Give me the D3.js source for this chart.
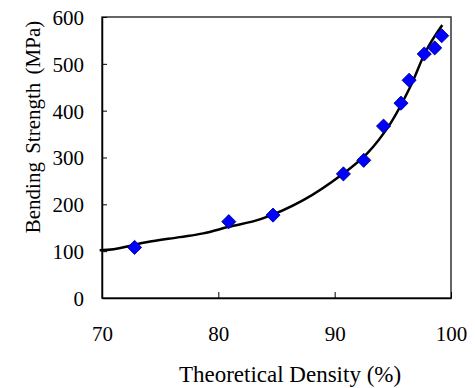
<!DOCTYPE html>
<html>
<head>
<meta charset="utf-8">
<script src="https://cdn.jsdelivr.net/npm/d3@7"></script>
<style>
  body { margin: 0; background: #fff; }
</style>
</head>
<body>
<figure id="chart" style="margin:0"></figure>
<script>
// measured points
const density = [72.8, 80.9, 84.7, 90.75, 92.5, 94.2, 95.7, 96.4, 97.7, 98.6, 99.2];
const strength = [108, 163, 177, 265, 294, 367, 416, 465, 521, 534, 560];

// fitted trend line
const fitDensity = [69.8, 71, 73.8, 76.7, 78.7, 80.9, 83.7, 87.3, 90.75, 92.8, 94.8, 96.5, 97.9, 99.25];
const fitStrength = [102, 104, 119, 130, 138, 152, 169, 209, 266, 309, 373, 451, 530, 583];

const xTicks = [70, 80, 90, 100];
const yTicks = [0, 100, 200, 300, 400, 500, 600];

const W = 475, H = 388;
const plotL = 102, plotR = 451, plotT = 17, plotB = 298;
const serif = "'Liberation Serif'";

const svg = d3.select("figure#chart")
  .append("svg")
  .attr("width", W)
  .attr("height", H);

const x = d3.scaleLinear().domain([70, 100]).range([plotL, plotR]);
const y = d3.scaleLinear().domain([0, 600]).range([plotB, plotT]);

// frame
svg.append("rect")
  .attr("x", plotL).attr("y", plotT)
  .attr("width", plotR - plotL).attr("height", plotB - plotT)
  .attr("fill", "none").attr("stroke", "#333").attr("stroke-width", 1.5);

// x axis, ticks pointing in
const gx = svg.append("g")
  .attr("transform", "translate(0," + plotB + ")")
  .call(d3.axisBottom(x).tickValues(xTicks).tickSize(-6).tickPadding(0).tickSizeOuter(0));
gx.attr("font-family", null).attr("font-size", null);
gx.select(".domain").attr("stroke", "#000").attr("stroke-width", 1.5);
gx.selectAll(".tick line").attr("stroke", "#000").attr("stroke-width", 1);
gx.selectAll(".tick text").attr("y", 43).attr("dy", 0)
  .style("font-family", serif).style("font-size", "21px").attr("fill", "#000");

// y axis
const gy = svg.append("g")
  .attr("transform", "translate(" + plotL + ",0)")
  .call(d3.axisLeft(y).tickValues(yTicks).tickSize(-5).tickPadding(0).tickSizeOuter(0));
gy.attr("font-family", null).attr("font-size", null);
gy.select(".domain").attr("stroke", "#000").attr("stroke-width", 1.5);
gy.selectAll(".tick line").attr("stroke", "#000").attr("stroke-width", 1);
gy.selectAll(".tick text").attr("x", -18).attr("dy", "0.35em")
  .style("font-family", serif).style("font-size", "21px").attr("fill", "#000");

// trend line
const line = d3.line()
  .x(d => x(d[0]))
  .y(d => y(d[1]))
  .curve(d3.curveCatmullRom);
svg.append("path")
  .datum(d3.zip(fitDensity, fitStrength))
  .attr("d", line)
  .attr("fill", "none")
  .attr("stroke", "#000")
  .attr("stroke-width", 2.5);

// diamonds
svg.append("g").selectAll("path")
  .data(d3.zip(density, strength))
  .enter()
  .append("path")
  .attr("d", d3.symbol().type(d3.symbolSquare).size(100))
  .attr("transform", d => "translate(" + x(d[0]) + "," + y(d[1]) + ") rotate(45)")
  .attr("fill", "#0000ff")
  .attr("stroke", "#000080")
  .attr("stroke-width", 0.8);

// axis titles
svg.append("text")
  .attr("x", 290).attr("y", 382)
  .attr("text-anchor", "middle")
  .style("font-family", serif)
  .style("font-size", "23px")
  .text("Theoretical Density (%)");

svg.append("text")
  .attr("transform", "translate(40,127) rotate(-90)")
  .attr("text-anchor", "middle")
  .style("font-family", serif)
  .style("font-size", "21px")
  .style("word-spacing", "3px")
  .text("Bending Strength (MPa)");
</script>
</body>
</html>
